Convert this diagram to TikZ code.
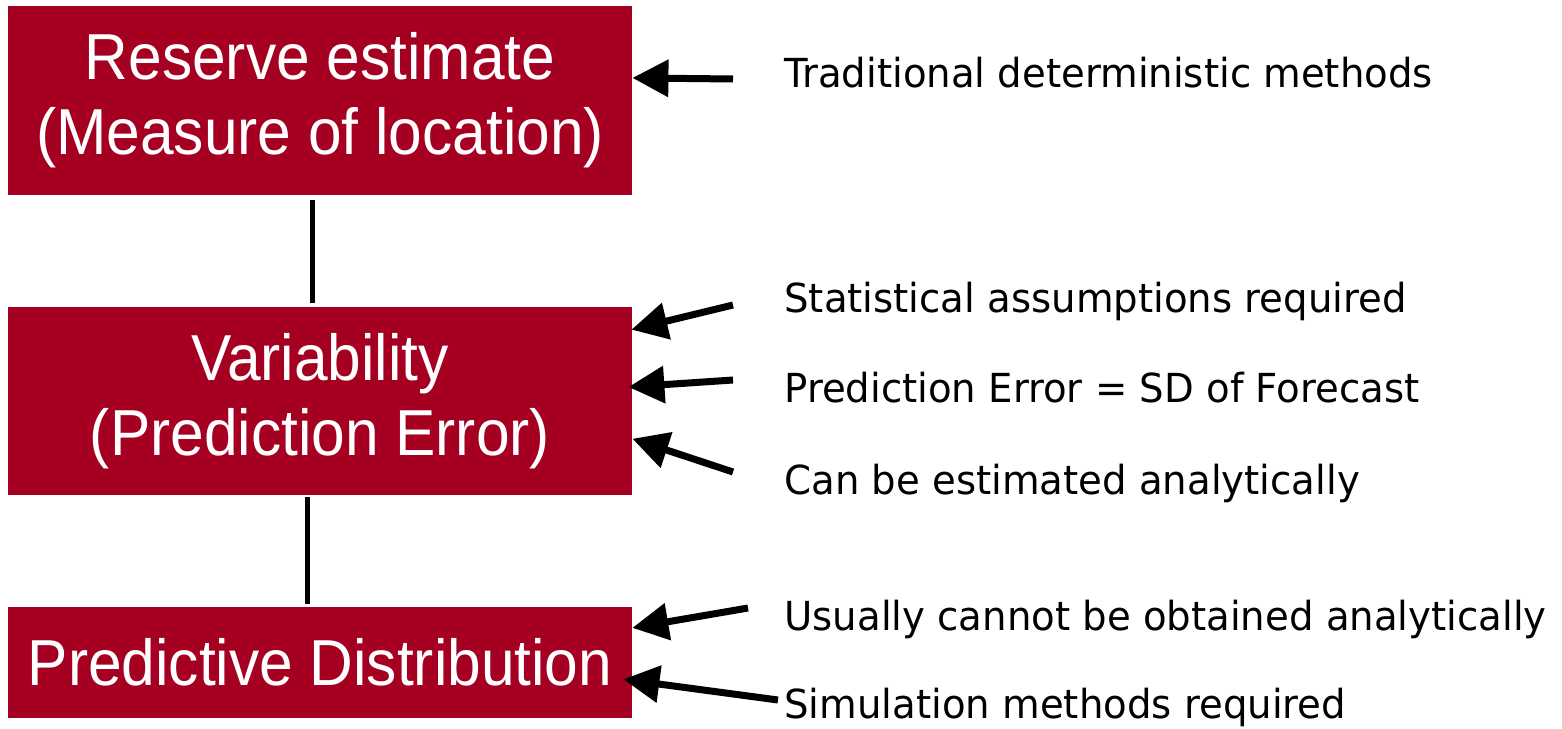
\documentclass[tikz,border=0pt]{standalone}
\usepackage{fontspec}
\setmainfont[FakeStretch=0.93]{Liberation Sans}
\newfontfamily\labelfont[FakeStretch=0.966]{DejaVu Sans}
\usetikzlibrary{arrows.meta,calc}
\definecolor{boxred}{HTML}{A50021}
\tikzset{
  box/.style={fill=boxred, text=white, inner sep=0pt, minimum width=312pt,
    align=center, font=\fontsize{32.5pt}{37.5pt}\selectfont},
  lbl/.style={anchor=base west, inner sep=0pt, font=\labelfont\fontsize{20pt}{24pt}\selectfont},
  link/.style={line width=2.5pt},
  arr/.style={line width=3.5pt, -{Triangle[length=18pt,width=18pt]}}
}
\begin{document}
\begin{tikzpicture}[x=0.5pt,y=-0.5pt]
\useasboundingbox (0,0) rectangle (1562,728);
\node[box, minimum height=94.5pt] (b1) at (320,100.5) {Reserve estimate\\(Measure of location)};
\node[box, minimum height=94pt] (b2) at (320,401) {Variability\\(Prediction Error)};
\node[box, minimum height=55.5pt] (b3) at (320,662.5) {Predictive Distribution};

\coordinate (c1a) at (312,200);
\coordinate (c1b) at (312,303);
\coordinate (c2a) at (307,497);
\coordinate (c2b) at (307,604);
\draw[link] (c1a) -- (c1b);
\draw[link] (c2a) -- (c2b);

\node[lbl] (l1) at (784,87) {Traditional deterministic methods};
\node[lbl] (l2) at (784,312) {Statistical assumptions required};
\node[lbl] (l3) at (784,402) {Prediction Error = SD of Forecast};
\node[lbl] (l4) at (784,494) {Can be estimated analytically};
\node[lbl] (l5) at (784,630) {Usually cannot be obtained analytically};
\node[lbl] (l6) at (784,718) {Simulation methods required};

\coordinate (t1) at (733,79);
\coordinate (t2) at (733,305);
\coordinate (t3) at (733,380);
\coordinate (t4) at (733,472);
\coordinate (t5) at (748,608);
\coordinate (t6) at (778,700);

\draw[arr] (t1) -- ($(b1.north east)!0.381!(b1.south east)$);
\draw[arr] (t2) -- ($(b2.north east)!0.122!(b2.south east)+(-1,0)$);
\draw[arr] (t3) -- ($(b2.north east)!0.426!(b2.south east)+(-4,0)$);
\draw[arr] (t4) -- ($(b2.north east)!0.70!(b2.south east)$);
\draw[arr] (t5) -- ($(b3.north east)!0.19!(b3.south east)$);
\draw[arr] (t6) -- ($(b3.north east)!0.65!(b3.south east)+(-9,0)$);
\end{tikzpicture}
\end{document}
